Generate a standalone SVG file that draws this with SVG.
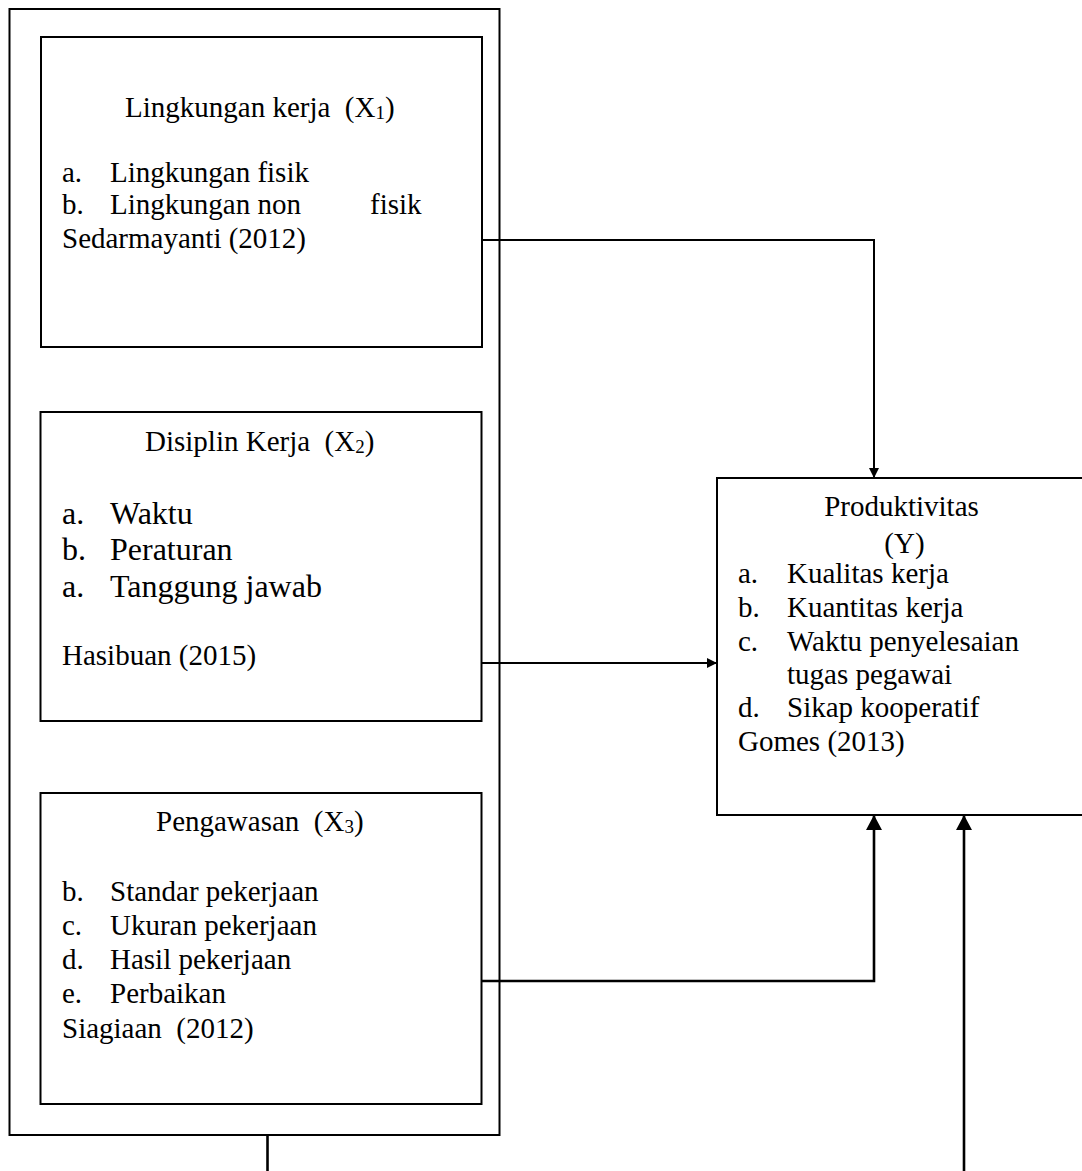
<svg xmlns="http://www.w3.org/2000/svg" width="1082" height="1171" viewBox="0 0 1082 1171">
  <style>
    .box { fill: #ffffff; stroke: #000000; stroke-width: 2; }
    .outer { fill: none; stroke: #000000; stroke-width: 2; }
    .t { font-family: "Liberation Serif", "Times New Roman", serif; font-size: 29px; fill: #000000; }
    .big { font-size: 32px; }
    .sub { font-size: 19px; }
    .conn { fill: none; stroke: #000000; stroke-width: 2; }
    .conn2 { fill: none; stroke: #000000; stroke-width: 2.6; }
  </style>
  <defs>
    <marker id="arrS" markerUnits="userSpaceOnUse" markerWidth="11" markerHeight="11" refX="10" refY="5" orient="auto">
      <path d="M0,0 L10,5 L0,10 z" fill="#000000"/>
    </marker>
    <marker id="arrL" markerUnits="userSpaceOnUse" markerWidth="16" markerHeight="17" refX="15" refY="8" orient="auto">
      <path d="M0,0 L15,8 L0,16 z" fill="#000000"/>
    </marker>
  </defs>
  <rect width="1082" height="1171" fill="#ffffff"/>

  <g id="outer-frame">
    <rect class="outer" x="9.5" y="9" width="490" height="1126"/>
  </g>

  <g id="x1-lingkungan-kerja">
    <rect class="box" x="41" y="37" width="441" height="310"/>
    <text class="t" x="125" y="116.5" xml:space="preserve">Lingkungan kerja  (X<tspan class="sub" dy="2">1</tspan><tspan dy="-2">)</tspan></text>
    <text class="t" x="62" y="182">a.</text>
    <text class="t" x="110" y="182">Lingkungan fisik</text>
    <text class="t" x="62" y="214">b.</text>
    <text class="t" x="110" y="214">Lingkungan non</text>
    <text class="t" x="370" y="214">fisik</text>
    <text class="t" x="62" y="248">Sedarmayanti (2012)</text>
  </g>

  <g id="x2-disiplin-kerja">
    <rect class="box" x="40.5" y="412" width="441" height="309"/>
    <text class="t" x="145" y="450.5" xml:space="preserve">Disiplin Kerja  (X<tspan class="sub" dy="2">2</tspan><tspan dy="-2">)</tspan></text>
    <text class="t big" x="62" y="524">a.</text>
    <text class="t big" x="110" y="524">Waktu</text>
    <text class="t big" x="62" y="560">b.</text>
    <text class="t big" x="110" y="560">Peraturan</text>
    <text class="t big" x="62" y="597">a.</text>
    <text class="t big" x="110" y="597">Tanggung jawab</text>
    <text class="t" x="62" y="665">Hasibuan (2015)</text>
  </g>

  <g id="x3-pengawasan">
    <rect class="box" x="40.5" y="793" width="441" height="311"/>
    <text class="t" x="156" y="830.5" xml:space="preserve">Pengawasan  (X<tspan class="sub" dy="2">3</tspan><tspan dy="-2">)</tspan></text>
    <text class="t" x="62" y="901">b.</text>
    <text class="t" x="110" y="901">Standar pekerjaan</text>
    <text class="t" x="62" y="935">c.</text>
    <text class="t" x="110" y="935">Ukuran pekerjaan</text>
    <text class="t" x="62" y="969">d.</text>
    <text class="t" x="110" y="969">Hasil pekerjaan</text>
    <text class="t" x="62" y="1002.5">e.</text>
    <text class="t" x="110" y="1002.5">Perbaikan</text>
    <text class="t" x="62" y="1038" xml:space="preserve">Siagiaan  (2012)</text>
  </g>

  <g id="y-produktivitas">
    <rect class="box" x="717" y="478" width="380" height="337"/>
    <text class="t" x="901.5" y="516" text-anchor="middle">Produktivitas</text>
    <text class="t" x="904.5" y="553" text-anchor="middle">(Y)</text>
    <text class="t" x="738" y="583">a.</text>
    <text class="t" x="787" y="583">Kualitas kerja</text>
    <text class="t" x="738" y="617">b.</text>
    <text class="t" x="787" y="617">Kuantitas kerja</text>
    <text class="t" x="738" y="651">c.</text>
    <text class="t" x="787" y="651">Waktu penyelesaian</text>
    <text class="t" x="787" y="684">tugas pegawai</text>
    <text class="t" x="738" y="717">d.</text>
    <text class="t" x="787" y="717">Sikap kooperatif</text>
    <text class="t" x="738" y="751">Gomes (2013)</text>
  </g>

  <g id="connectors">
    <path class="conn" d="M482,240 H874 V478" marker-end="url(#arrS)"/>
    <path class="conn" d="M482,663 H717" marker-end="url(#arrS)"/>
    <path class="conn2" d="M482,981 H874 V815" marker-end="url(#arrL)"/>
    <path class="conn2" d="M267.5,1135 V1171"/>
    <path class="conn2" d="M964,1171 V815" marker-end="url(#arrL)"/>
  </g>
</svg>
